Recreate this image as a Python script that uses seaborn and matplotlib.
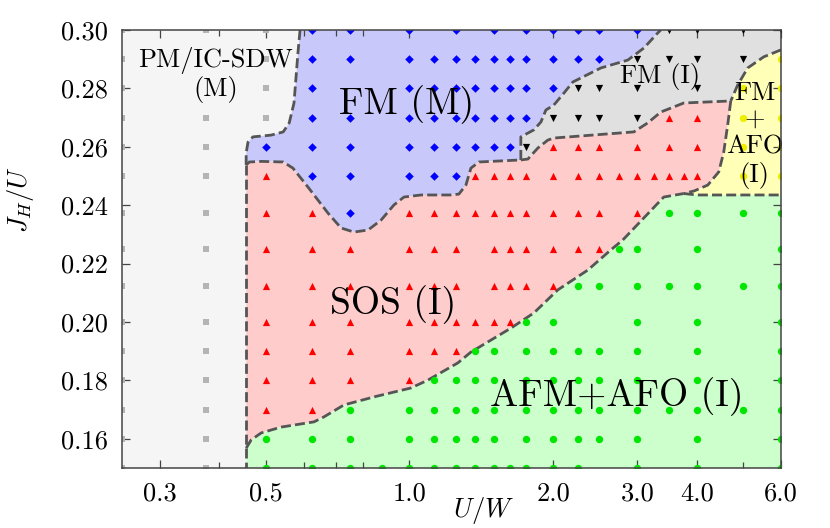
import numpy as np
import pandas as pd
import matplotlib
matplotlib.use("Agg")
import matplotlib.pyplot as plt
import seaborn as sns
from matplotlib.ticker import FixedLocator, NullFormatter, FormatStrFormatter

# ----- grid points: J_H/U -> list of U/W for each phase -----
pm_pts = {0.30: [0.25, 0.375, 0.5], 0.29: [0.25, 0.5], 0.28: [0.25, 0.5],
          0.27: [0.25, 0.375, 0.5], 0.26: [0.25, 0.375], 0.25: [0.25, 0.375],
          0.2375: [0.25, 0.375], 0.225: [0.25, 0.375], 0.2125: [0.25, 0.375],
          0.20: [0.25, 0.375], 0.19: [0.25, 0.375], 0.18: [0.25, 0.375],
          0.17: [0.25, 0.375], 0.16: [0.25, 0.375], 0.15: [0.25, 0.375]}

fm_m_pts = {0.30: [0.625, 0.75, 1.0, 1.25, 1.5, 1.75, 2.0, 2.25, 2.5, 3.0],
            0.29: [0.625, 0.75, 1.0, 1.125, 1.25, 1.375, 1.5, 1.625, 1.75, 2.0, 2.25, 2.5],
            0.28: [0.625, 1.0, 1.125, 1.25, 1.375, 1.5, 1.625, 1.75, 2.0],
            0.27: [0.625, 0.75, 1.0, 1.125, 1.25, 1.375, 1.5, 1.625, 1.75],
            0.26: [0.5, 0.625, 0.75, 1.0, 1.125, 1.25, 1.375, 1.5, 1.625],
            0.25: [0.625, 0.75, 1.0, 1.125, 1.25],
            0.2375: [0.75]}

fm_i_pts = {0.30: [3.5, 4.0, 5.0, 6.0], 0.29: [3.0, 3.5, 4.0, 5.0],
            0.28: [2.25, 2.5, 3.0, 4.0], 0.27: [2.0, 2.25, 2.5, 3.0], 0.26: [1.75]}

sos_pts = {0.27: [3.5, 4.0],
           0.26: [2.0, 2.25, 2.5, 3.0, 3.5, 4.0],
           0.25: [0.5, 1.375, 1.5, 1.625, 1.75, 2.0, 2.25, 2.5, 2.75, 3.0, 3.25, 3.5, 3.75, 4.0],
           0.2375: [0.5, 0.625, 1.0, 1.125, 1.25, 1.375, 1.5, 1.625, 1.75, 2.0, 2.25, 2.5, 3.0],
           0.225: [0.5, 0.625, 0.75, 1.0, 1.125, 1.25, 1.5, 1.625, 1.75, 2.0, 2.25, 2.5],
           0.2125: [0.5, 0.625, 0.75, 1.0, 1.125, 1.25, 1.5, 1.625, 1.75, 2.0],
           0.20: [0.5, 0.625, 0.75, 1.0, 1.125, 1.25, 1.375, 1.5, 1.625],
           0.19: [0.5, 0.625, 0.75, 1.0, 1.125, 1.25],
           0.18: [0.5, 0.625, 0.75, 1.0],
           0.17: [0.5, 0.625]}

afm_pts = {0.2375: [3.5, 4.0, 5.0, 6.0],
           0.225: [2.75, 3.0, 4.0, 6.0],
           0.2125: [2.25, 2.5, 3.0, 3.5, 4.0, 5.0, 6.0],
           0.20: [1.75, 2.0, 3.0, 4.0, 6.0],
           0.19: [1.375, 1.5, 1.75, 2.0, 2.25, 2.5, 3.0, 4.0, 6.0],
           0.18: [1.125, 1.25, 1.375, 1.5, 1.75, 2.0, 2.25, 2.5, 3.0, 4.0, 6.0],
           0.17: [0.75, 1.0, 1.125, 1.25, 1.375, 1.5, 1.75, 2.0, 2.25, 2.5, 3.0, 3.5, 4.0, 5.0, 6.0],
           0.16: [0.5, 0.625, 0.75, 1.0, 1.125, 1.25, 1.375, 1.5, 1.75, 2.0, 2.25, 2.5, 3.0, 4.0, 6.0],
           0.15: [0.5, 0.625, 0.75, 0.875, 1.0, 1.125, 1.25, 1.375, 1.5, 1.625, 1.75, 2.0, 2.25, 3.0, 4.0, 6.0]}

fmafo_pts = {0.29: [6.0], 0.28: [5.0, 6.0], 0.27: [5.0, 6.0], 0.26: [5.0, 6.0], 0.25: [5.0, 6.0]}

# ----- phase boundaries (U/W, J_H/U) -----
pm_edge_top = [(0.590, 0.300), (0.584, 0.2921), (0.573, 0.2750), (0.560, 0.2682), (0.544, 0.2651),
               (0.513, 0.2640), (0.470, 0.2634), (0.459, 0.2616), (0.455, 0.2579), (0.455, 0.2538)]
pm_edge_mid = [(0.455, 0.2538), (0.455, 0.1568)]
pm_edge_low = [(0.455, 0.1568), (0.455, 0.150)]
fm_sos_edge = [(0.455, 0.2538), (0.462, 0.2548), (0.49, 0.2550), (0.544, 0.2548), (0.570, 0.2527),
               (0.613, 0.2462), (0.675, 0.2373), (0.719, 0.2322), (0.765, 0.2308), (0.819, 0.2315),
               (0.872, 0.2349), (0.928, 0.2401), (0.974, 0.2428), (1.057, 0.2435), (1.221, 0.2435),
               (1.269, 0.2438), (1.313, 0.2469), (1.345, 0.2527), (1.398, 0.2548), (1.711, 0.2555)]
fmi_sos_edge = [(1.711, 0.2555), (1.770, 0.2558), (1.858, 0.2596), (1.949, 0.2623), (2.006, 0.2630),
                (2.951, 0.2651), (3.156, 0.2682), (3.36, 0.2719), (3.754, 0.2750), (4.709, 0.2757)]
fm_fmi_edge = [(1.711, 0.2555), (1.711, 0.2634), (1.822, 0.2658), (1.885, 0.2685), (1.931, 0.2726),
               (2.006, 0.2743), (2.106, 0.2784), (2.199, 0.2822), (2.517, 0.2870), (2.866, 0.2897),
               (3.096, 0.2938), (3.312, 0.2990), (3.36, 0.300)]
fmi_yel_edge = [(6.0, 0.2932), (5.52, 0.2908), (5.11, 0.2870), (4.87, 0.2812), (4.709, 0.2757)]
yel_sos_edge = [(4.709, 0.2757), (4.64, 0.2675), (4.552, 0.2582), (4.444, 0.2514), (4.215, 0.2469),
                (3.95, 0.2449), (3.754, 0.2440)]
yel_afm_edge = [(3.754, 0.2440), (4.0, 0.2435), (6.0, 0.2435)]
sos_afm_edge = [(0.455, 0.1568), (0.466, 0.1596), (0.489, 0.1620), (0.538, 0.1640), (0.631, 0.1658),
                (0.662, 0.1675), (0.729, 0.1716), (0.85, 0.1745), (1.007, 0.1774), (1.093, 0.1801),
                (1.263, 0.1860), (1.345, 0.1897), (1.631, 0.1979), (1.822, 0.2031), (2.045, 0.2110),
                (2.364, 0.2178), (2.641, 0.2247), (2.798, 0.2281), (3.409, 0.2428), (3.754, 0.2440)]

x_ticks = [0.3, 0.5, 1.0, 2.0, 3.0, 4.0, 6.0]
x_tick_labels = ["0.3", "0.5", "1.0", "2.0", "3.0", "4.0", "6.0"]
x_minor = [0.4, 0.6, 0.7, 0.8, 5.0]
y_ticks = [0.16, 0.18, 0.20, 0.22, 0.24, 0.26, 0.28, 0.30]

plt.rcParams["font.family"] = ["cmr10", "DejaVu Serif"]
plt.rcParams["mathtext.fontset"] = "cm"
plt.rcParams["axes.formatter.use_mathtext"] = True


def to_df(pts, phase):
    rows = [(u, j, phase) for j, us in pts.items() for u in us]
    return pd.DataFrame(rows, columns=["U", "J", "phase"])


fig, ax = plt.subplots(figsize=(8.3, 5.28), dpi=100)
fig.subplots_adjust(left=122 / 830, right=781 / 830, bottom=60 / 528, top=498 / 528)

# ----- filled regions -----
tl, bl = (0.25, 0.30), (0.25, 0.15)
regions = [
    ([tl] + pm_edge_top + pm_edge_mid[1:] + pm_edge_low[1:] + [bl], "#f5f5f5"),
    (pm_edge_top + fm_sos_edge[1:] + fm_fmi_edge[1:], "#c8c8fa"),
    (fm_fmi_edge + [(6.0, 0.30)] + fmi_yel_edge + fmi_sos_edge[::-1][1:], "#e0e0e0"),
    (fmi_yel_edge + yel_sos_edge[1:] + yel_afm_edge[1:], "#ffffb8"),
    (fm_sos_edge + fmi_sos_edge[1:] + yel_sos_edge[1:] + sos_afm_edge[::-1][1:] + pm_edge_mid[::-1][1:], "#ffcccc"),
    (sos_afm_edge + yel_afm_edge[1:] + [(6.0, 0.15)] + pm_edge_low[::-1], "#ccffcc"),
]
for poly, col in regions:
    xs, ys = zip(*poly)
    ax.fill(xs, ys, color=col, lw=0, zorder=1)

# ----- dashed boundaries -----
for edge in [pm_edge_top, pm_edge_mid, pm_edge_low, fm_sos_edge, fmi_sos_edge, fm_fmi_edge,
             fmi_yel_edge, yel_sos_edge, yel_afm_edge, sos_afm_edge]:
    xs, ys = zip(*edge)
    ax.plot(xs, ys, color="#555555", lw=2.0, ls=(0, (3.6, 1.5)), zorder=2)

# ----- grid points -----
styles = [
    (pm_pts, "PM", "s", "#b4b4b4", 24),
    (fm_m_pts, "FM_M", "D", "#0000ff", 19),
    (fm_i_pts, "FM_I", "v", "#000000", 27),
    (sos_pts, "SOS", "^", "#ff0000", 27),
    (afm_pts, "AFM", "o", "#00e600", 28),
    (fmafo_pts, "FMAFO", "o", "#eeee00", 28),
]
for pts, name, mk, col, sz in styles:
    sns.scatterplot(data=to_df(pts, name), x="U", y="J", marker=mk, color=col, s=sz,
                    linewidth=0, ax=ax, zorder=3, legend=False)

# ----- phase labels -----
ax.text(0.392, 0.2846, "PM/IC-SDW\n(M)", ha="center", va="center", fontsize=19, linespacing=1.1, zorder=4)
ax.text(0.988, 0.2743, "FM (M)", ha="center", va="center", fontsize=27, zorder=4)
ax.text(3.344, 0.2842, "FM (I)", ha="center", va="center", fontsize=19, zorder=4)
ax.text(5.286, 0.2640, "FM\n+\nAFO\n(I)", ha="center", va="center", fontsize=19, linespacing=1.15, zorder=4)
ax.text(0.926, 0.2058, "SOS (I)", ha="center", va="center", fontsize=27, zorder=4)
ax.text(2.712, 0.1743, "AFM+AFO (I)", ha="center", va="center", fontsize=27, zorder=4)

# ----- axes -----
ax.set_xscale("log")
ax.set_xlim(0.25, 6.0)
ax.set_ylim(0.15, 0.30)
ax.xaxis.set_major_locator(FixedLocator(x_ticks))
ax.set_xticklabels(x_tick_labels)
ax.xaxis.set_minor_locator(FixedLocator(x_minor))
ax.xaxis.set_minor_formatter(NullFormatter())
ax.set_yticks(y_ticks)
ax.yaxis.set_major_formatter(FormatStrFormatter("%.2f"))
ax.yaxis.set_minor_locator(FixedLocator([]))
ax.tick_params(which="both", direction="in", top=True, right=True, color="#444444", width=0.9)
ax.tick_params(which="major", length=6, labelsize=19, pad=10)
ax.tick_params(which="minor", length=4.5)
for sp in ax.spines.values():
    sp.set_color("#444444")
    sp.set_linewidth(1.1)
    sp.set_zorder(5)

ax.set_xlabel(r"$U/W$", fontsize=19)
ax.set_ylabel(r"$J_H/U$", fontsize=19)
ax.xaxis.set_label_coords(0.548, -0.062)
ax.yaxis.set_label_coords(-0.131, 0.614)

fig.savefig("out.png", dpi=100)
